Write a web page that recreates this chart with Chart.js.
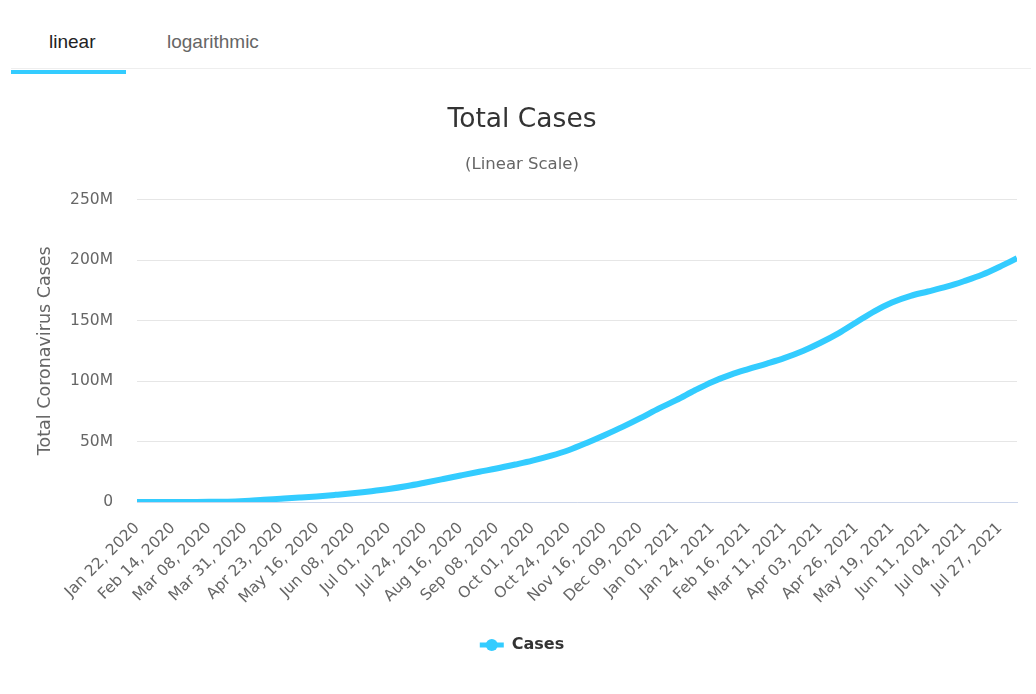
<!DOCTYPE html>
<html>
<head>
<meta charset="utf-8">
<title>Total Cases</title>
<script src="https://cdn.jsdelivr.net/npm/chart.js@4.4.0/dist/chart.umd.min.js"></script>
<style>
    body {
        margin: 0;
        width: 1036px;
        height: 694px;
        overflow: hidden;
        position: relative;
        background: #ffffff;
        font-family: 'Liberation Sans', Arial, sans-serif;
    }
    .tab-line {
        position: absolute;
        left: 11px;
        top: 68px;
        width: 1020px;
        height: 1px;
        background: #eeeeee;
    }
    .tab {
        position: absolute;
        top: 32px;
        font-size: 19px;
        line-height: 19px;
        color: #666666;
    }
    .tab.active {
        color: #222222;
    }
    .tab-bar {
        position: absolute;
        left: 11px;
        top: 70px;
        width: 115px;
        height: 4px;
        background: #33ccff;
    }
    .chart-box {
        position: absolute;
        left: 0;
        top: 72px;
        width: 1036px;
        height: 622px;
    }
</style>
</head>
<body>
    <div class="tab-line"></div>
    <div class="tab active" style="left:49px">linear</div>
    <div class="tab" style="left:167px">logarithmic</div>
    <div class="tab-bar"></div>

    <div class="chart-box">
        <canvas id="casesChart"></canvas>
    </div>

<script>
    // Cumulative cases in millions
    const dates = [
        '2020-01-22', '2020-02-03', '2020-02-14', '2020-02-26', '2020-03-08', '2020-03-20',
        '2020-03-31', '2020-04-12', '2020-04-23', '2020-05-05', '2020-05-16', '2020-05-28',
        '2020-06-08', '2020-06-20', '2020-07-01', '2020-07-13', '2020-07-24', '2020-08-05',
        '2020-08-16', '2020-08-28', '2020-09-08', '2020-09-20', '2020-10-01', '2020-10-13',
        '2020-10-24', '2020-11-05', '2020-11-16', '2020-11-28', '2020-12-09', '2020-12-21',
        '2021-01-01', '2021-01-13', '2021-01-24', '2021-02-05', '2021-02-16', '2021-02-28',
        '2021-03-11', '2021-03-23', '2021-04-03', '2021-04-15', '2021-04-26', '2021-05-08',
        '2021-05-19', '2021-05-31', '2021-06-11', '2021-06-23', '2021-07-04', '2021-07-16',
        '2021-07-27', '2021-08-07'
    ];
    const cases = [
        0.0006, 0.018, 0.067, 0.082, 0.11, 0.27,
        0.86, 1.85, 2.7, 3.66, 4.63, 5.92,
        7.2, 8.87, 10.7, 13.2, 15.9, 19.0,
        21.9, 25.0, 27.7, 31.0, 34.2, 38.3,
        42.8, 49.0, 55.2, 62.3, 69.3, 77.4,
        84.2, 92.4, 99.3, 105.3, 109.8, 114.4,
        118.9, 124.8, 131.4, 139.6, 148.4, 157.9,
        165.0, 170.5, 174.0, 178.0, 182.5, 188.0,
        194.5, 201.5
    ];
    const yTicks = [0, 50, 100, 150, 200, 250];
    const monthNames = ['Jan', 'Feb', 'Mar', 'Apr', 'May', 'Jun', 'Jul', 'Aug', 'Sep', 'Oct', 'Nov', 'Dec'];

    const DAY = 86400000;
    const start = Date.parse(dates[0] + 'T00:00:00Z');
    const dayIndex = d => Math.round((Date.parse(d + 'T00:00:00Z') - start) / DAY);
    const lastDay = dayIndex(dates[dates.length - 1]);

    function formatDay(v) {
        const d = new Date(start + v * DAY);
        const day = String(d.getUTCDate()).padStart(2, '0');
        return monthNames[d.getUTCMonth()] + ' ' + day + ', ' + d.getUTCFullYear();
    }

    const FONT = "'DejaVu Sans', Verdana, sans-serif";
    Chart.defaults.font.family = FONT;

    // legend marker: line with a dot on it
    const legendDot = {
        id: 'legendDot',
        afterDraw(chart) {
            const legend = chart.legend;
            if (!legend || !legend.legendHitBoxes) return;
            const ctx = chart.ctx;
            legend.legendHitBoxes.forEach((box, i) => {
                const color = chart.data.datasets[i].borderColor;
                ctx.save();
                ctx.fillStyle = color;
                ctx.beginPath();
                ctx.arc(box.left + 12, box.top + box.height / 2, 6, 0, Math.PI * 2);
                ctx.fill();
                ctx.restore();
            });
        }
    };

    const ctx = document.getElementById('casesChart').getContext('2d');
    new Chart(ctx, {
        type: 'line',
        data: {
            datasets: [{
                label: 'Cases',
                data: dates.map((d, i) => ({ x: dayIndex(d), y: cases[i] })),
                borderColor: '#33ccff',
                backgroundColor: '#33ccff',
                borderWidth: 6,
                pointRadius: 0,
                cubicInterpolationMode: 'monotone',
                fill: false
            }]
        },
        options: {
            responsive: true,
            maintainAspectRatio: false,
            animation: false,
            layout: {
                padding: { left: 27, right: 19, top: 0, bottom: 31 }
            },
            plugins: {
                title: {
                    display: true,
                    text: 'Total Cases',
                    color: '#333333',
                    font: { size: 26.5, weight: 'normal' },
                    padding: { top: 32, bottom: 19 }
                },
                subtitle: {
                    display: true,
                    text: '(Linear Scale)',
                    color: '#666666',
                    font: { size: 16.5 },
                    padding: { top: 0, bottom: 25 }
                },
                legend: {
                    position: 'bottom',
                    labels: {
                        boxWidth: 24,
                        boxHeight: 5,
                        color: '#333333',
                        font: { size: 16, weight: 'bold' },
                        padding: 10,
                        generateLabels(chart) {
                            const items = Chart.defaults.plugins.legend.labels.generateLabels(chart);
                            items.forEach(it => { it.lineWidth = 0; });
                            return items;
                        }
                    }
                },
                tooltip: { enabled: false }
            },
            scales: {
                x: {
                    type: 'linear',
                    min: 0,
                    max: lastDay,
                    afterFit(scale) { scale.height = 125; },
                    grid: { display: false },
                    border: { color: '#ccd6eb' },
                    ticks: {
                        stepSize: 23,
                        includeBounds: false,
                        autoSkip: false,
                        minRotation: 45,
                        maxRotation: 45,
                        padding: 9,
                        color: '#666666',
                        font: { size: 15.5 },
                        callback: v => formatDay(v)
                    }
                },
                y: {
                    min: 0,
                    max: 250,
                    afterFit(scale) { scale.width = 110; },
                    afterBuildTicks(scale) { scale.ticks = yTicks.map(v => ({ value: v })); },
                    grid: { color: '#e6e6e6', drawTicks: false },
                    border: { display: false },
                    ticks: {
                        padding: 24,
                        color: '#666666',
                        font: { size: 15.5 },
                        callback: v => v === 0 ? '0' : v + 'M'
                    },
                    title: {
                        display: true,
                        text: 'Total Coronavirus Cases',
                        color: '#666666',
                        font: { size: 17.5 },
                        padding: { top: 8, bottom: 0 }
                    }
                }
            }
        },
        plugins: [legendDot]
    });
</script>
</body>
</html>
